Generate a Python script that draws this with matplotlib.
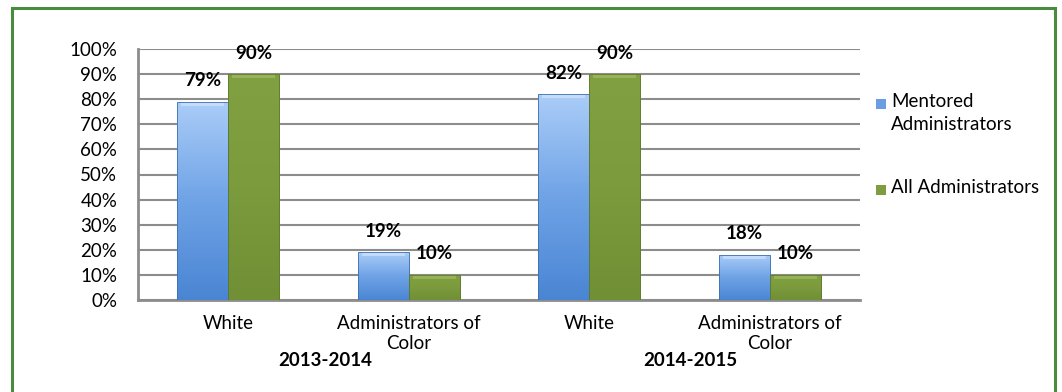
import numpy as np
import matplotlib
matplotlib.use("Agg")
import matplotlib.pyplot as plt
from matplotlib.patches import Rectangle
from matplotlib.colors import LinearSegmentedColormap

plt.rcParams['font.family'] = ['Lato', 'DejaVu Sans']

categories = ["White", "Administrators of\nColor", "White", "Administrators of\nColor"]
years = ["2013-2014", "2014-2015"]
mentored = [79, 19, 82, 18]
all_admins = [90, 10, 90, 10]
series_names = ["Mentored\nAdministrators", "All Administrators"]
y_ticks = list(range(0, 101, 10))

FS = 13.5
W, H = 1062, 392
fig = plt.figure(figsize=(W / 100, H / 100), dpi=100)
ax = fig.add_axes([138 / W, 1 - 300 / H, (860 - 138) / W, (300 - 49) / H])

x = np.arange(len(categories))
bw = 0.283

blue_cmap = LinearSegmentedColormap.from_list("b", ["#4a85d3", "#6fa3e6", "#abcdf8"])
green_cmap = LinearSegmentedColormap.from_list("g", ["#718f35", "#7b9b3d", "#80a041"])

def shade(bars, cmap, top_color):
    grad = np.linspace(0, 1, 256).reshape(-1, 1)
    for b in bars:
        x0, y0 = b.get_x(), b.get_y()
        w, h = b.get_width(), b.get_height()
        im = ax.imshow(grad, cmap=cmap, origin="lower", aspect="auto",
                       extent=[x0, x0 + w, y0, y0 + h], zorder=3)
        im.set_clip_path(b)
        # bevelled top highlight
        cap = min(1.6, h * 0.3)
        ax.add_patch(Rectangle((x0 + w * 0.08, y0 + h - cap), w * 0.84, cap,
                               facecolor=top_color, edgecolor="none", alpha=0.55, zorder=4))
        b.set_facecolor("none")

b1 = ax.bar(x - bw / 2, mentored, bw, edgecolor="#3d6fb0", linewidth=0.6, zorder=5)
b2 = ax.bar(x + bw / 2, all_admins, bw, edgecolor="#5f7a2c", linewidth=0.6, zorder=5)
shade(b1, blue_cmap, "#dcebfd")
shade(b2, green_cmap, "#a9c46a")

for bars, vals in ((b1, mentored), (b2, all_admins)):
    for b, v in zip(bars, vals):
        ax.annotate(f"{v}%", (b.get_x() + b.get_width() / 2, v), xytext=(0, 21),
                    textcoords="offset pixels", ha="center", va="center",
                    fontsize=FS, fontweight="bold", color="black", zorder=6)

ax.set_xlim(-0.5, len(categories) - 0.5)
ax.set_ylim(0, 100)
ax.set_yticks(y_ticks)
ax.set_yticklabels([f"{t}%" for t in y_ticks], fontsize=FS)
ax.set_xticks(x)
ax.set_xticklabels(categories, fontsize=FS, linespacing=1.22)
ax.tick_params(axis="y", length=0, pad=15)
ax.tick_params(axis="x", length=0, pad=11)
ax.yaxis.grid(True, color="#8c8c8c", linewidth=1.5, zorder=0)
ax.set_axisbelow(True)
for s in ("top", "right"):
    ax.spines[s].set_visible(False)
for s in ("left", "bottom"):
    ax.spines[s].set_color("#8c8c8c")
    ax.spines[s].set_linewidth(2)

# season labels under each pair of categories
for yr, px in zip(years, (325, 690)):
    fig.text(px / W, 1 - 361 / H, yr, ha="center", va="center",
             fontsize=FS, fontweight="bold")

# legend
for name, col, py in ((series_names[0], "#6a9de2", 104), (series_names[1], "#7d9d3e", 190)):
    fig.patches.append(Rectangle((876 / W, 1 - (py + 5) / H), 10 / W, 10 / H,
                                 transform=fig.transFigure, facecolor=col,
                                 edgecolor="none"))
    fig.text(891 / W, 1 - (py - 11) / H, name, ha="left", va="top",
             fontsize=FS, linespacing=1.42)

# outer frame
fig.patches.append(Rectangle((12 / W, -0.05), (1055 - 12) / W, 1.05 - 8 / H,
                             transform=fig.transFigure, facecolor="none",
                             edgecolor="#4a8c3f", linewidth=2.2))

fig.savefig("out.png", dpi=100)
